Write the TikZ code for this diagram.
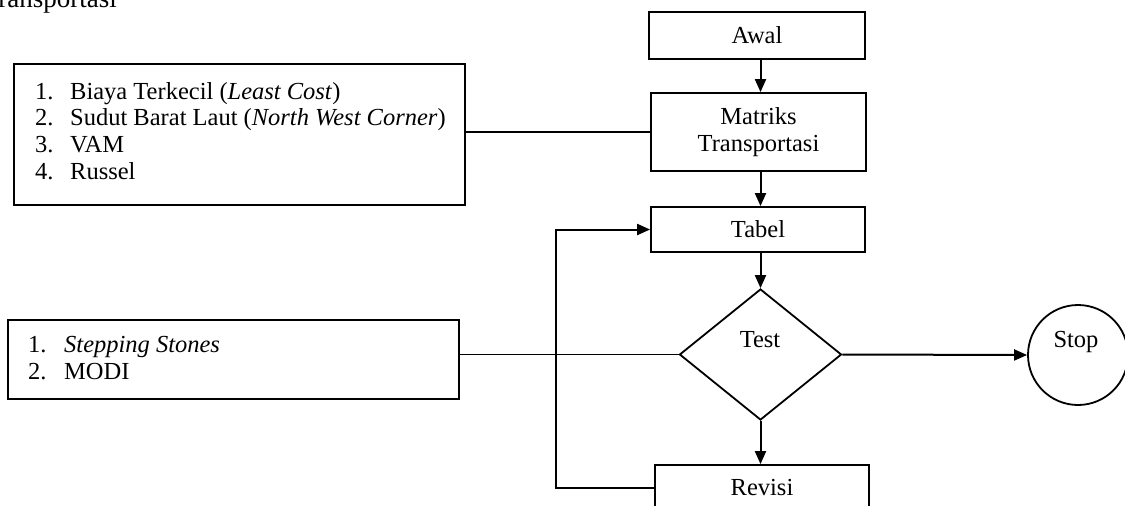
\documentclass[tikz,border=0pt]{standalone}
\usepackage{fontspec}
\setmainfont{Liberation Serif}
\usetikzlibrary{shapes.geometric,arrows.meta}
\begin{document}
\begin{tikzpicture}[x=1pt,y=-1pt,
  every node/.style={font=\fontsize{24.5}{26.67}\selectfont},
  box/.style={draw, line width=1.8pt, rectangle, inner sep=0pt},
  lbl/.style={inner sep=0pt},
  conn/.style={line width=1.6pt},
  arr/.style={line width=2pt, -{Triangle[length=13pt,width=11pt]}}]
\useasboundingbox (0,0) rectangle (1125,506);
% cut-off caption
\node[lbl, anchor=base east, font=\fontsize{27}{30}\selectfont] (caption) at (117,7) {Transportasi};
% main column
\node[box, minimum width=216, minimum height=47] (awal) at (757,35.5) {Awal};
\node[box, minimum width=215, minimum height=78, align=center] (matriks) at (758.5,132) {Matriks\\Transportasi};
\node[box, minimum width=214, minimum height=45] (tabel) at (758,229.5) {Tabel};
\node[draw, line width=1.8pt, diamond, minimum width=162, minimum height=131, inner sep=0pt] (test) at (760.5,354.5) {};
\node[lbl, anchor=base] (testlbl) at (760,347) {Test};
\node[box, minimum width=214, minimum height=50] (revisi) at (762,490) {};
\node[lbl, anchor=base] (revisilbl) at (762,495) {Revisi};
\node[draw, line width=1.8pt, circle, minimum size=100, inner sep=0pt] (stop) at (1078,355) {};
\node[lbl, anchor=base] (stoplbl) at (1076,347) {Stop};
% left boxes
\node[box, minimum width=451, minimum height=141, anchor=north west] (methods) at (13,63) {};
\node[lbl, anchor=west, align=left] (methodstxt) at (35,131)
  {\makebox[35pt][l]{1.}Biaya Terkecil (\textit{Least Cost})\\
   \makebox[35pt][l]{2.}Sudut Barat Laut (\textit{North West Corner})\\
   \makebox[35pt][l]{3.}VAM\\
   \makebox[35pt][l]{4.}Russel};
\node[box, minimum width=451, minimum height=79, anchor=north west] (optim) at (7,319) {};
\node[lbl, anchor=west, align=left] (optimtxt) at (28,358)
  {\makebox[36pt][l]{1.}\textit{Stepping Stones}\\
   \makebox[36pt][l]{2.}MODI};
% connectors
\draw[arr] (awal.south -| test.north) -- (matriks.north -| test.north);
\draw[arr] (matriks.south -| test.north) -- (tabel.north -| test.north);
\draw[arr] (tabel.south -| test.north) -- (test.north);
\draw[arr] (test.south) -- (revisi.north -| test.south);
\draw[arr] (test.east) -- (stop.west);
\draw[conn] (matriks.west) -- (matriks.west -| methods.east);
\draw[conn] (test.west) -- (test.west -| optim.east);
\coordinate (loopc) at (556,488);
\draw[arr] (revisi.west |- loopc) -- (loopc) |- (tabel.west);
\end{tikzpicture}
\end{document}
